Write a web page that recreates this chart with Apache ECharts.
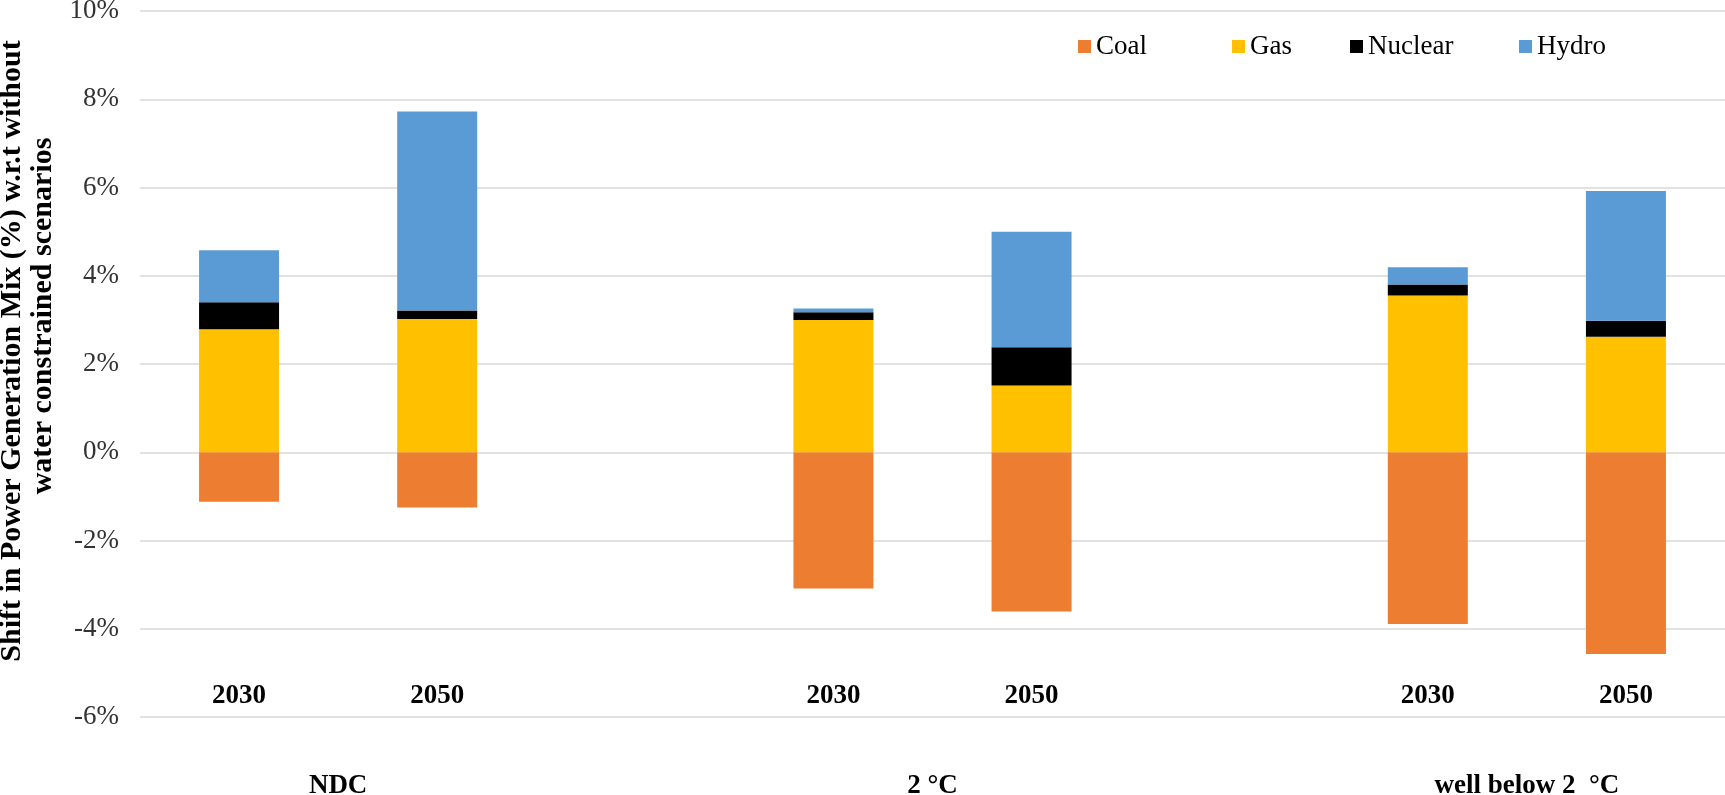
<!DOCTYPE html>
<html>
<head>
<meta charset="utf-8">
<script src="https://cdn.jsdelivr.net/npm/echarts@6/dist/echarts.min.js"></script>
<style>
html,body{margin:0;padding:0;background:#fff;}
#chart{width:1725px;height:795px;}
</style>
</head>
<body>
<div id="chart"></div>
<script>
// Category slots (blank slots are the gaps between scenario groups)
const years = ['2030', '2050', '', '2030', '2050', '', '2030', '2050'];
// Scenario group labels, placed at slot boundaries (value positions on a 0..8 axis)
const groupLabels = ['NDC', '2 °C', 'well below 2  °C'];
const groupPositions = [1, 4, 7];
// Series values (% shift)
const coal    = [-1.12, -1.25, null, -3.09, -3.61, null, -3.89, -4.57];
const gas     = [ 2.79,  3.02, null,  3.00,  1.51, null,  3.55,  2.62];
const nuclear = [ 0.61,  0.19, null,  0.17,  0.87, null,  0.25,  0.36];
const hydro   = [ 1.18,  4.51, null,  0.09,  2.62, null,  0.39,  2.94];
const yTicks = { min: -6, max: 10, interval: 2 };
const yTitleLines = ['Shift in Power Generation Mix (%) w.r.t without', 'water constrained scenarios'];

const FONT = "'Liberation Serif', 'Times New Roman', serif";
const seriesNames = ['Coal', 'Gas', 'Nuclear', 'Hydro'];
const seriesData = [coal, gas, nuclear, hydro];
const colors = ['#ED7D31', '#FFC000', '#000000', '#5B9BD5'];
const legendLeft = [1073, 1227, 1345, 1514];

const chart = echarts.init(document.getElementById('chart'), null, {renderer: 'canvas'});
const option = {
  animation: false,
  backgroundColor: '#ffffff',
  grid: { left: 140, right: 0, top: 11, bottom: 78, containLabel: false, outerBoundsMode: 'none' },
  legend: seriesNames.map((n, i) => ({
    data: [n],
    left: legendLeft[i],
    top: 28,
    itemWidth: 13,
    itemHeight: 13,
    itemGap: 0,
    icon: 'rect',
    textStyle: { fontFamily: FONT, fontSize: 27, color: '#000' }
  })),
  xAxis: [
    {
      type: 'category',
      data: years,
      position: 'bottom',
      offset: -38,
      axisLine: { show: false },
      axisTick: { show: false },
      axisLabel: { interval: 0, fontFamily: FONT, fontSize: 27, fontWeight: 'bold', color: '#000', margin: 4 },
      splitLine: { show: false }
    },
    {
      type: 'value',
      min: 0, max: 8, interval: 1,
      position: 'bottom',
      axisLine: { show: false },
      axisTick: { show: false },
      splitLine: { show: false },
      axisLabel: {
        margin: 56,
        fontFamily: FONT, fontSize: 27, fontWeight: 'bold', color: '#000',
        formatter: function (v) {
          const k = groupPositions.indexOf(Math.round(v));
          return k >= 0 ? groupLabels[k] : '';
        }
      }
    }
  ],
  yAxis: {
    type: 'value',
    min: yTicks.min, max: yTicks.max, interval: yTicks.interval,
    axisLine: { show: false },
    axisTick: { show: false },
    splitLine: { show: true, lineStyle: { color: '#D9D9D9', width: 1.5 } },
    axisLabel: {
      margin: 21,
      fontFamily: FONT, fontSize: 27, color: '#333',
      formatter: v => v + '%'
    },
    name: '{a|' + yTitleLines[0] + '}\n{b|' + yTitleLines[1] + '}',
    nameLocation: 'middle',
    nameGap: 70,
    nameTextStyle: {
      fontFamily: FONT, fontSize: 30, fontWeight: 'bold', color: '#000', lineHeight: 31,
      padding: [0, 0, 0, 26],
      rich: {
        a: { fontFamily: FONT, fontSize: 30, fontWeight: 'bold', color: '#000', lineHeight: 31 },
        b: { fontFamily: FONT, fontSize: 30, fontWeight: 'bold', color: '#000', lineHeight: 31, padding: [0, 0, 0, 70] }
      }
    }
  },
  series: seriesNames.map((n, i) => ({
    name: n,
    type: 'bar',
    stack: 'total',
    xAxisIndex: 0,
    barWidth: 80,
    itemStyle: { color: colors[i] },
    data: seriesData[i]
  }))
};
chart.setOption(option);
</script>
</body>
</html>
